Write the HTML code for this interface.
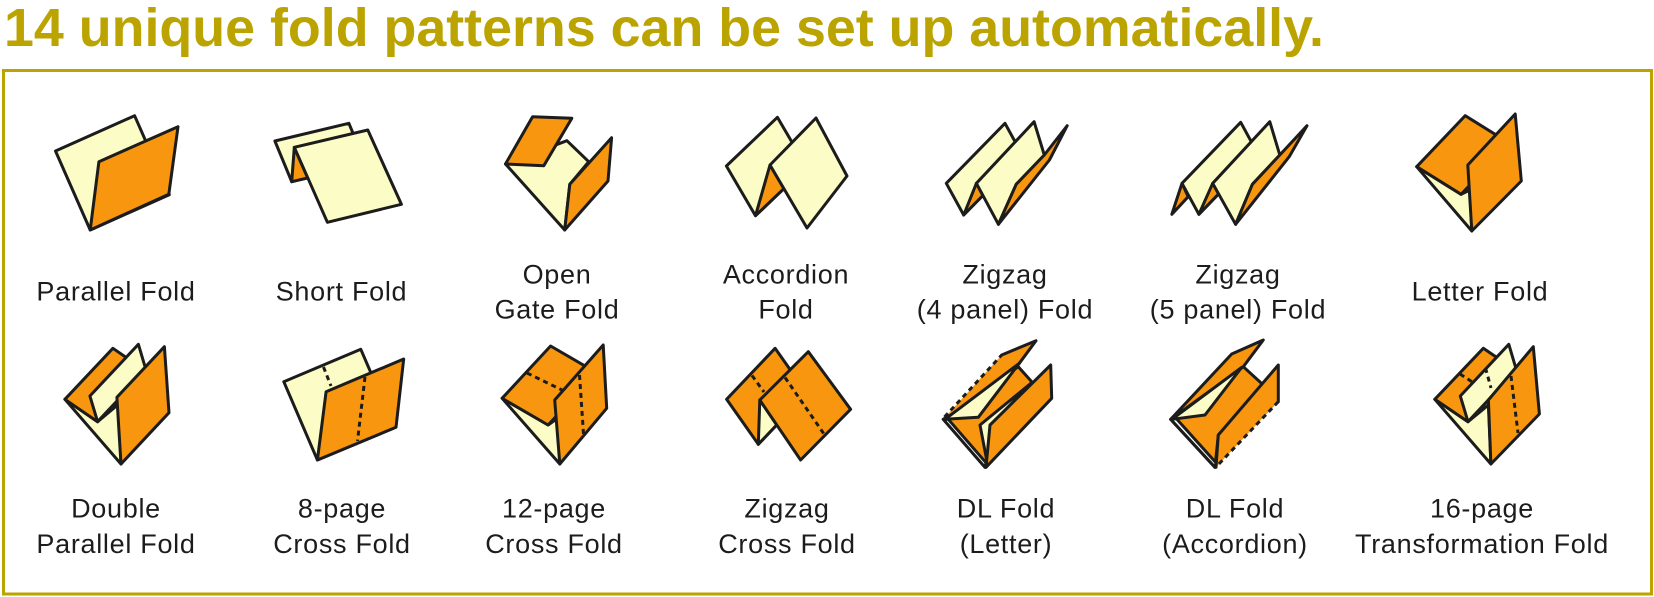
<!DOCTYPE html>
<html>
<head>
<meta charset="utf-8">
<style>
html,body{margin:0;padding:0;background:#ffffff;}
body{width:1654px;height:597px;overflow:hidden;}
svg{display:block;}
.t{font-family:"Liberation Sans",Arial,sans-serif;font-size:27px;letter-spacing:0.7px;fill:#1c1c1c;text-anchor:middle;}
.L{fill:#FCFCC6;stroke:#1c1c1c;stroke-width:3;stroke-linejoin:round;}
.O{fill:#F8970F;stroke:#1c1c1c;stroke-width:3;stroke-linejoin:round;}
.W{fill:#ffffff;stroke:#1c1c1c;stroke-width:3;stroke-linejoin:round;}
.Of{fill:#F8970F;stroke:none;}
.s{fill:none;stroke:#1c1c1c;stroke-width:3;stroke-linejoin:round;stroke-linecap:round;}
.d{fill:none;stroke:#1c1c1c;stroke-width:3;stroke-dasharray:5 4;}
</style>
</head>
<body>
<svg width="1654" height="597" viewBox="0 0 1654 597" xmlns="http://www.w3.org/2000/svg">
<!-- Title -->
<text x="4" y="46" font-family="'Liberation Sans',Arial,sans-serif" font-weight="bold" font-size="54" fill="#BBA300" textLength="1320" lengthAdjust="spacingAndGlyphs">14 unique fold patterns can be set up automatically.</text>
<!-- Frame -->
<rect x="3.5" y="70.5" width="1648" height="523.5" fill="none" stroke="#BBA300" stroke-width="3"/>

<!-- 1 Parallel Fold -->
<polygon class="L" points="55.5,151 134.6,115.7 169.3,194.7 90.2,230"/>
<polygon class="O" points="98.9,161.7 178,126.7 168.8,194.3 90.2,230"/>

<!-- 2 Short Fold -->
<polygon class="L" points="274.9,141 348.9,123.3 365.7,164 291.7,181.7"/>
<polygon class="O" points="294.3,147.5 291.7,181.7 307.7,177.9"/>
<polygon class="L" points="294.3,147.3 367.8,130 401.4,204.3 327.4,222.3"/>

<!-- 3 Open Gate Fold -->
<polygon class="L" points="505.5,164 566.9,140.7 588.7,161.7 569.8,184.3 564.7,230"/>
<polygon class="O" points="569.8,184.3 611.6,137.7 608,181 564.7,230"/>
<polygon class="O" points="505.5,164 532.6,116.7 571.8,118.3 543.8,165.7"/>

<!-- 4 Accordion Fold -->
<polygon class="L" points="726.4,166 777.4,117.3 806.5,167 755.5,215.7"/>
<polygon class="O" points="770,165 755.5,215.7 783.9,188.6"/>
<polygon class="L" points="770,165 816,118 847,176 807,228"/>

<!-- 5 Zigzag (4 panel) -->
<polygon class="L" points="946.3,183.3 1005,123.3 1022.3,155 963.7,215"/>
<polygon class="O" points="963.7,215 976.4,183.3 982.9,195.4"/>
<polygon class="L" points="976.4,183.3 1034.1,121.7 1044.3,155 1016.2,184.3 998.4,224.3"/>
<polygon class="O" points="998.4,224.3 1016.2,184.3 1044.3,155 1067.2,125.7 1049.4,160"/>

<!-- 6 Zigzag (5 panel) -->
<polygon class="O" points="1171.8,214.3 1182,183.3 1188.2,196.7"/>
<polygon class="L" points="1182,183.3 1240.7,122.3 1257.6,153.3 1198.9,214.3"/>
<polygon class="O" points="1198.9,214.3 1212.7,183.3 1218.6,193.9"/>
<polygon class="L" points="1212.7,183.3 1269.8,121.7 1279.8,155 1252.4,184.3 1235.6,224.3"/>
<polygon class="O" points="1235.6,224.3 1252.4,184.3 1279.8,155 1307,125.7 1289.2,156.7"/>

<!-- 7 Letter Fold -->
<polygon class="L" points="1416.7,166.7 1461.1,194.3 1470,190 1471.8,231"/>
<polygon class="O" points="1416.7,166.7 1465.2,115.7 1509.6,143.3 1461.1,194.3"/>
<polygon class="O" points="1467.8,165 1515.2,114 1521.3,181 1471.8,231"/>

<!-- 8 Double Parallel Fold -->
<polygon class="L" points="64.9,399.3 97.6,421.7 119.5,403.3 121,464"/>
<polygon class="O" points="64.9,399.3 112.9,348.3 145.5,370.7 97.6,421.7"/>
<polygon class="L" points="89.9,396 138.4,344.3 146,370 97.6,421.7"/>
<polygon class="O" points="116.9,397.3 164.4,346.7 169,412.7 121,464"/>

<!-- 9 8-page Cross Fold -->
<polygon class="L" points="283.8,381.7 360.8,349.3 394.5,427.7 317.4,460"/>
<line class="d" x1="323.5" y1="367" x2="331" y2="386"/>
<polygon class="O" points="326.1,391.7 403.7,359 396,427.3 317.4,460"/>
<line class="d" x1="365" y1="377" x2="357.5" y2="441"/>

<!-- 10 12-page Cross Fold -->
<polygon class="L" points="502.1,398.3 548.1,425 558,418 559.8,464"/>
<polygon class="O" points="502.1,398.3 550.6,346 596.5,372.7 548.1,425"/>
<line class="d" x1="527" y1="373" x2="562" y2="390"/>
<polygon class="O" points="554.7,400 603.2,345 606.7,408.3 559.8,464"/>
<line class="d" x1="579.5" y1="375" x2="583.5" y2="434"/>

<!-- 11 Zigzag Cross Fold -->
<polygon class="O" points="726.6,399.3 775.1,348.3 806.8,393.3 758.3,444.3"/>
<line class="d" x1="752" y1="375.5" x2="764" y2="392"/>
<polygon class="L" points="759.8,400 758.3,444.3 776.7,424.9"/>
<polygon class="O" points="759.8,400 808.3,351.7 850.6,409.3 800.6,460"/>
<line class="d" x1="785" y1="377.5" x2="824" y2="434"/>

<!-- 12 DL Fold (Letter) -->
<polygon class="O" points="943.3,419.3 1018.3,366.7 1031.7,381.7 985,467.3"/>
<polygon class="W" points="943.3,419.3 948.3,419.3 986,462.7 985,467.3"/>
<polygon class="L" points="980,425 1031.7,382.7 991.7,424 986.7,460"/>
<polygon class="O" points="986,467.3 990,425 1050.7,365 1051.7,398.3"/>
<polygon class="Of" points="943.3,419.3 1001.7,355 1036,340.7 1019.3,363.3"/>
<polyline class="s" points="1001.7,355 1036,340.7 1019.3,363.3"/>
<line class="d" x1="944.5" y1="417" x2="1001.7" y2="355"/>
<polygon class="L" points="945,419.3 1019.3,363.3 978.3,417.3"/>

<!-- 13 DL Fold (Accordion) -->
<polygon class="O" points="1170.7,419.3 1243.3,366.7 1263.3,385 1218.3,435 1215,467.3"/>
<polygon class="W" points="1170.7,419.3 1176,418.3 1216,462.7 1215,467.3"/>
<polygon class="Of" points="1216,467.3 1218.3,435 1278.3,365 1278.3,401.7"/>
<polyline class="s" points="1278.3,401.7 1278.3,365 1218.3,435 1216,467.3"/>
<line class="d" x1="1278.3" y1="401.7" x2="1217" y2="466"/>
<polygon class="O" points="1170.7,419.3 1231.7,354 1263.3,340 1243.3,366.7"/>
<polygon class="L" points="1172,419.3 1241.7,367.3 1205,415"/>

<!-- 14 16-page Transformation Fold -->
<polygon class="L" points="1434.8,399.3 1468,421.7 1488.4,405 1490.9,464"/>
<polygon class="O" points="1434.8,399.3 1483.3,348.3 1516.4,370.7 1468,421.7"/>
<line class="d" x1="1460" y1="374" x2="1480" y2="387"/>
<polygon class="L" points="1460.3,396 1508.8,344.3 1516.4,370 1468,421.7"/>
<line class="d" x1="1485.5" y1="368" x2="1491" y2="388"/>
<polygon class="O" points="1488.4,400 1533.3,346.7 1539.4,414 1490.9,464"/>
<line class="d" x1="1511" y1="376" x2="1518" y2="433"/>

<!-- Row 1 labels -->
<text class="t" x="116" y="300.7">Parallel Fold</text>
<text class="t" x="341.5" y="300.7">Short Fold</text>
<text class="t" x="557" y="283.3">Open</text>
<text class="t" x="557" y="318.3">Gate Fold</text>
<text class="t" x="786" y="283.3">Accordion</text>
<text class="t" x="786" y="318.3">Fold</text>
<text class="t" x="1005" y="283.3">Zigzag</text>
<text class="t" x="1005" y="318.3">(4 panel) Fold</text>
<text class="t" x="1238" y="283.3">Zigzag</text>
<text class="t" x="1238" y="318.3">(5 panel) Fold</text>
<text class="t" x="1480" y="300.7">Letter Fold</text>

<!-- Row 2 labels -->
<text class="t" x="116" y="517.7">Double</text>
<text class="t" x="116" y="553">Parallel Fold</text>
<text class="t" x="342" y="517.7">8-page</text>
<text class="t" x="342" y="553">Cross Fold</text>
<text class="t" x="554" y="517.7">12-page</text>
<text class="t" x="554" y="553">Cross Fold</text>
<text class="t" x="787" y="517.7">Zigzag</text>
<text class="t" x="787" y="553">Cross Fold</text>
<text class="t" x="1006" y="517.7">DL Fold</text>
<text class="t" x="1006" y="553">(Letter)</text>
<text class="t" x="1235" y="517.7">DL Fold</text>
<text class="t" x="1235" y="553">(Accordion)</text>
<text class="t" x="1482" y="517.7">16-page</text>
<text class="t" x="1482" y="553">Transformation Fold</text>
</svg>
</body>
</html>
